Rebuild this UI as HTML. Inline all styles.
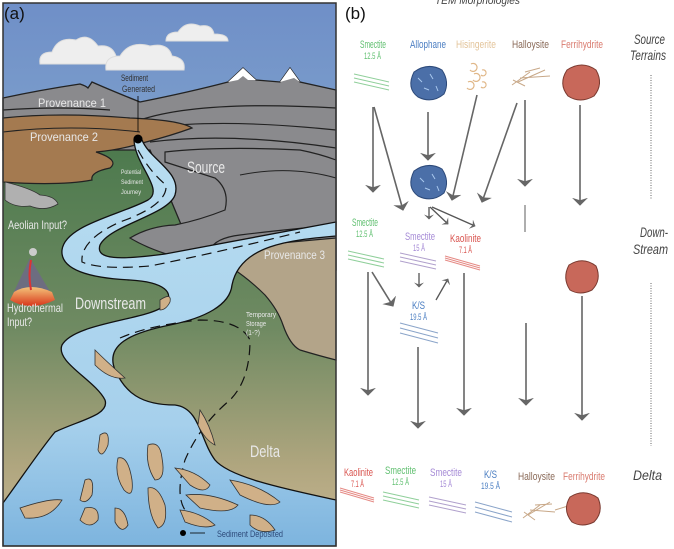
<!DOCTYPE html>
<html><head><meta charset="utf-8"><style>
html,body{margin:0;padding:0;background:#fff;width:674px;height:549px;overflow:hidden}
svg{display:block;font-family:"Liberation Sans",sans-serif}
</style></head><body>
<svg width="674" height="549" viewBox="0 0 674 549" xmlns="http://www.w3.org/2000/svg">
<defs>
<linearGradient id="sky" x1="0" y1="0" x2="0" y2="1">
<stop offset="0" stop-color="#6f8fc8"/><stop offset="0.6" stop-color="#8fb5cf"/><stop offset="1" stop-color="#7fb3ad"/></linearGradient>
<linearGradient id="land" x1="0" y1="0" x2="0" y2="1">
<stop offset="0" stop-color="#4d7a4e"/><stop offset="0.45" stop-color="#6f8a62"/><stop offset="0.8" stop-color="#b0a67f"/><stop offset="1" stop-color="#c9b894"/></linearGradient>
<linearGradient id="sea" x1="0" y1="0" x2="0" y2="1">
<stop offset="0" stop-color="#b9def1"/><stop offset="0.7" stop-color="#a6d0ec"/><stop offset="1" stop-color="#7db4de"/></linearGradient>
<linearGradient id="volc" x1="0" y1="0" x2="0" y2="1">
<stop offset="0" stop-color="#f4c37a"/><stop offset="1" stop-color="#d8361b"/></linearGradient>
<marker id="ah" viewBox="0 0 10 20" refX="9" refY="10" markerWidth="5" markerHeight="10" orient="auto" markerUnits="userSpaceOnUse">
<path d="M0,0 L10,10 L0,20 L4,10 Z" fill="#666"/></marker>
<marker id="ah2" viewBox="0 0 10 20" refX="9" refY="10" markerWidth="8" markerHeight="22" orient="auto" markerUnits="userSpaceOnUse">
<path d="M0,0 L10,10 L0,20 L3,10 Z" fill="#666"/></marker>
</defs>

<rect x="3" y="3" width="333" height="543" fill="url(#sky)"/>
<g fill="#eeeeee" stroke="#ddd">
<path d="M40,64 Q38,52 52,52 Q58,36 76,40 Q88,32 98,46 Q112,44 116,56 Q118,64 110,64 Z"/>
<path d="M106,70 Q104,56 120,56 Q130,40 150,46 Q168,42 172,56 Q186,58 184,70 Z"/>
<path d="M166,41 Q166,32 178,32 Q186,20 200,26 Q212,24 214,34 Q228,34 228,41 Z"/>
</g>
<path d="M3,150 L336,150 L336,546 L3,546 Z" fill="url(#land)"/>
<path d="M3,98 Q40,90 80,84 Q86,86 88,88 L92,82 Q110,90 140,102 Q190,92 228,82 L243,68 L256,80 L280,82 L290,68 L300,82 L336,90 L336,270 L200,270 L150,150 L3,150 Z" fill="#8a8a8d" stroke="#222" stroke-width="1.3"/>
<path d="M228,82 L243,68 L256,80 L248,80 L243,76 L238,80 Z M280,82 L290,68 L300,82 L294,78 Z" fill="#fff"/>
<g fill="none" stroke="#222" stroke-width="1.2">
<path d="M140,120 Q200,100 336,108"/><path d="M150,128 Q220,118 336,130"/><path d="M150,142 Q230,132 336,148"/>
<path d="M3,110 Q60,106 110,110"/>
</g>
<path d="M3,118 Q60,112 130,118 Q180,120 192,128 Q170,136 146,142 Q120,150 96,152 Q120,160 110,168 Q90,172 92,180 Q60,186 3,182 Z" fill="#a47a50" stroke="#222" stroke-width="1.2"/>
<path d="M3,132 Q70,124 140,132" fill="none" stroke="#222" stroke-width="1"/>
<path d="M165,152 Q220,146 300,150 Q320,154 336,160 L336,225 Q280,230 240,235 Q215,238 210,250 Q205,262 180,258 Q150,250 130,238 Q150,226 175,225 Q200,220 225,210 Q230,190 215,178 Q190,170 165,162 Z" fill="#8a8a8d" stroke="#222" stroke-width="1.2"/>
<path d="M240,175 Q290,165 336,178" fill="none" stroke="#222" stroke-width="1"/>
<path d="M336,238 Q290,242 250,246 Q228,254 232,268 Q250,280 265,295 Q278,310 283,325 Q290,345 300,350 Q320,356 336,360 Z" fill="#b3a489" stroke="#222" stroke-width="1.2"/>
<path d="M5,182 Q30,188 40,195 Q55,196 58,204 Q45,212 30,206 Q15,208 5,200 Z" fill="#b0b0b0" stroke="#333" stroke-width="0.8"/>
<path d="M30,258 L10,300 Q30,310 55,300 Z" fill="#6d6d80"/>
<path d="M14,292 Q30,282 52,292 L55,300 Q30,312 10,300 Z" fill="url(#volc)"/>
<circle cx="33" cy="252" r="4" fill="#ccc"/>
<path d="M31,260 Q28,275 31,290" stroke="#d33" stroke-width="2" fill="none"/>
<path d="M142,140 C150,160 182,172 175,195 C168,215 110,225 100,245 C95,260 120,260 165,254 L336,222 L336,236 C290,240 240,245 232,285 C230,305 205,318 170,325 C130,333 105,345 115,370 C125,392 140,405 175,405 C200,408 200,440 215,460 C230,478 290,490 336,500 L336,546 L3,546 L3,503 C20,480 40,450 55,432 C80,420 110,415 105,400 C95,380 55,362 62,345 C75,322 150,320 165,305 C175,293 165,282 130,280 C90,278 60,270 62,250 C65,225 120,215 148,200 C165,190 135,165 134,140 Z" fill="url(#sea)" stroke="#111" stroke-width="1.3"/>
<g fill="none" stroke="#111" stroke-width="1.2" stroke-dasharray="10,6">
<path d="M138,150 Q150,172 166,185 Q168,205 120,222 Q80,240 82,262 Q100,270 150,266 Q220,252 300,232"/>
<path d="M120,338 Q150,325 200,320 Q240,320 250,340 Q250,380 230,400 Q200,425 185,460 Q175,495 185,510"/>
</g>
<g fill="#d0b088" stroke="#333" stroke-width="0.8">
<path d="M100,435 Q110,428 108,445 Q102,460 98,450 Z"/>
<path d="M118,458 Q128,455 132,480 Q134,500 124,490 Q114,475 118,458 Z"/>
<path d="M148,445 Q160,440 162,458 Q166,480 155,480 Q145,465 148,445 Z"/>
<path d="M85,480 Q95,475 92,495 Q86,505 80,500 Z"/>
<path d="M148,488 Q158,485 165,505 Q168,525 158,528 Q148,515 148,488 Z"/>
<path d="M175,468 Q195,470 210,485 Q205,495 190,485 Z"/>
<path d="M186,495 Q210,492 238,505 Q230,515 200,508 Z"/>
<path d="M230,480 Q260,485 280,502 Q270,510 240,495 Z"/>
<path d="M180,510 Q200,512 215,525 Q205,530 185,522 Z"/>
<path d="M20,508 Q50,498 62,500 Q50,520 25,518 Z"/>
<path d="M85,508 Q100,505 98,520 Q90,530 80,520 Z"/>
<path d="M115,508 Q125,508 128,525 Q122,535 115,522 Z"/>
<path d="M250,515 Q265,515 275,530 Q260,535 250,525 Z"/>
<path d="M200,410 Q210,425 215,445 Q205,440 198,425 Z"/>
<path d="M95,350 Q105,360 125,378 Q110,380 95,365 Z"/>
<path d="M160,300 Q172,292 170,302 Q166,310 160,310 Z"/>
</g>
<circle cx="138" cy="139" r="4.5" fill="#000"/>
<circle cx="183" cy="533" r="3" fill="#000"/>
<line x1="138" y1="96" x2="138" y2="132" stroke="#000" stroke-width="0.8"/>
<line x1="205" y1="533" x2="190" y2="533" stroke="#000" stroke-width="0.8"/>
<rect x="3" y="3" width="333" height="543" fill="none" stroke="#333" stroke-width="1.5"/>
<g fill="#e8e8e8">
<text x="4" y="19" font-size="17" fill="#111">(a)</text>
<text x="121" y="81" font-size="9" fill="#333" textLength="27" lengthAdjust="spacingAndGlyphs">Sediment</text>
<text x="122" y="92" font-size="9" fill="#333" textLength="33" lengthAdjust="spacingAndGlyphs">Generated</text>
<text x="38" y="107" font-size="12" textLength="68" lengthAdjust="spacingAndGlyphs">Provenance 1</text>
<text x="30" y="141" font-size="12" textLength="68" lengthAdjust="spacingAndGlyphs">Provenance 2</text>
<text x="187" y="173" font-size="17" textLength="38" lengthAdjust="spacingAndGlyphs">Source</text>
<text x="121" y="174" font-size="6.5" textLength="20" lengthAdjust="spacingAndGlyphs">Potential</text>
<text x="121" y="184" font-size="6.5" textLength="22" lengthAdjust="spacingAndGlyphs">Sediment</text>
<text x="121" y="194" font-size="6.5" textLength="20" lengthAdjust="spacingAndGlyphs">Journey</text>
<text x="8" y="229" font-size="12" textLength="59" lengthAdjust="spacingAndGlyphs">Aeolian Input?</text>
<text x="264" y="259" font-size="12" textLength="61" lengthAdjust="spacingAndGlyphs">Provenance 3</text>
<text x="7" y="312" font-size="12" textLength="56" lengthAdjust="spacingAndGlyphs">Hydrothermal</text>
<text x="7" y="326" font-size="12" textLength="25" lengthAdjust="spacingAndGlyphs">Input?</text>
<text x="75" y="309" font-size="17" textLength="71" lengthAdjust="spacingAndGlyphs">Downstream</text>
<text x="246" y="317" font-size="7" textLength="30" lengthAdjust="spacingAndGlyphs">Temporary</text>
<text x="246" y="326" font-size="7" textLength="20" lengthAdjust="spacingAndGlyphs">Storage</text>
<text x="246" y="335" font-size="7" textLength="14" lengthAdjust="spacingAndGlyphs">(1-?)</text>
<text x="250" y="457" font-size="17" textLength="30" lengthAdjust="spacingAndGlyphs">Delta</text>
<text x="217" y="537" font-size="9" fill="#2d4a7a" textLength="66" lengthAdjust="spacingAndGlyphs">Sediment Deposited</text>
</g>

<text x="345" y="19" font-size="17" fill="#111">(b)</text>
<text x="435" y="4" font-size="11" font-style="italic" fill="#444" textLength="85" lengthAdjust="spacingAndGlyphs">TEM Morphologies</text>
<g font-size="14" font-style="italic" fill="#444">
<text x="634" y="44" textLength="31" lengthAdjust="spacingAndGlyphs">Source</text>
<text x="630" y="60" textLength="36" lengthAdjust="spacingAndGlyphs">Terrains</text>
<text x="640" y="237" textLength="28" lengthAdjust="spacingAndGlyphs">Down-</text>
<text x="633" y="254" textLength="35" lengthAdjust="spacingAndGlyphs">Stream</text>
<text x="633" y="480" textLength="29" lengthAdjust="spacingAndGlyphs">Delta</text>
</g>
<g font-size="11">
<text x="360" y="48" fill="#5fbf6f" textLength="26" lengthAdjust="spacingAndGlyphs">Smectite</text><text x="364" y="59" font-size="9" fill="#5fbf6f" textLength="17" lengthAdjust="spacingAndGlyphs">12.5 Å</text>
<text x="410" y="48" fill="#4b7ec2" textLength="36" lengthAdjust="spacingAndGlyphs">Allophane</text>
<text x="456" y="48" fill="#e3c49a" textLength="40" lengthAdjust="spacingAndGlyphs">Hisingerite</text>
<text x="512" y="48" fill="#8a6a58" textLength="37" lengthAdjust="spacingAndGlyphs">Halloysite</text>
<text x="561" y="48" fill="#d97a6e" textLength="42" lengthAdjust="spacingAndGlyphs">Ferrihydrite</text>
<text x="352" y="226" fill="#5fbf6f" textLength="26" lengthAdjust="spacingAndGlyphs">Smectite</text><text x="356" y="237" font-size="9" fill="#5fbf6f" textLength="17" lengthAdjust="spacingAndGlyphs">12.5 Å</text>
<text x="405" y="240" fill="#a58ad6" textLength="30" lengthAdjust="spacingAndGlyphs">Smectite</text><text x="413" y="251" font-size="9" fill="#a58ad6" textLength="12" lengthAdjust="spacingAndGlyphs">15 Å</text>
<text x="450" y="242" fill="#d9544f" textLength="31" lengthAdjust="spacingAndGlyphs">Kaolinite</text><text x="459" y="253" font-size="9" fill="#d9544f" textLength="13" lengthAdjust="spacingAndGlyphs">7.1 Å</text>
<text x="412" y="309" fill="#4b7ec2" textLength="13" lengthAdjust="spacingAndGlyphs">K/S</text><text x="410" y="320" font-size="9" fill="#4b7ec2" textLength="17" lengthAdjust="spacingAndGlyphs">19.5 Å</text>
<text x="344" y="476" fill="#d9544f" textLength="29" lengthAdjust="spacingAndGlyphs">Kaolinite</text><text x="351" y="487" font-size="9" fill="#d9544f" textLength="13" lengthAdjust="spacingAndGlyphs">7.1 Å</text>
<text x="385" y="474" fill="#5fbf6f" textLength="31" lengthAdjust="spacingAndGlyphs">Smectite</text><text x="392" y="485" font-size="9" fill="#5fbf6f" textLength="17" lengthAdjust="spacingAndGlyphs">12.5 Å</text>
<text x="430" y="476" fill="#a58ad6" textLength="32" lengthAdjust="spacingAndGlyphs">Smectite</text><text x="440" y="487" font-size="9" fill="#a58ad6" textLength="12" lengthAdjust="spacingAndGlyphs">15 Å</text>
<text x="484" y="478" fill="#4b7ec2" textLength="13" lengthAdjust="spacingAndGlyphs">K/S</text><text x="481" y="489" font-size="9" fill="#4b7ec2" textLength="19" lengthAdjust="spacingAndGlyphs">19.5 Å</text>
<text x="518" y="480" fill="#8a6a58" textLength="37" lengthAdjust="spacingAndGlyphs">Halloysite</text>
<text x="563" y="480" fill="#d97a6e" textLength="42" lengthAdjust="spacingAndGlyphs">Ferrihydrite</text>
</g>
<g stroke="#666" stroke-width="1" stroke-dasharray="1,1.5">
<line x1="651" y1="75" x2="651" y2="200"/><line x1="651" y1="283" x2="651" y2="446"/>
</g>
<g fill="none" stroke-width="1">
<g stroke="#8fcf9a"><path d="M354,74 L389,82 M354,78 L389,86 M354,82 L389,90"/>
<path d="M348,251 L384,259 M348,255 L384,263 M348,259 L384,267"/>
<path d="M383,492 L419,500 M383,496 L419,504 M383,500 L419,508"/></g>
<g stroke="#b0a0cc"><path d="M400,253 L436,261 M400,257 L436,265 M400,261 L436,269"/>
<path d="M429,497 L466,505 M429,501 L466,509 M429,505 L466,513"/></g>
<g stroke="#e58a85"><path d="M445,256 L480,266 M445,258 L480,268 M445,260 L480,270"/>
<path d="M340,488 L374,498 M340,490 L374,500 M340,492 L374,502"/></g>
<g stroke="#8aa4c9"><path d="M400,323 L438,333 M400,328 L438,338 M400,333 L438,343"/>
<path d="M475,502 L512,512 M475,507 L512,517 M475,512 L512,522"/></g>
<g stroke="#c8a888"><path d="M512,85 L530,72 M518,82 L545,70 M520,78 L550,76 M525,72 L540,68 M513,80 L525,86"/>
<path d="M523,518 L540,505 M528,515 L550,502 M530,510 L555,512 M535,505 L552,504 M524,512 L535,520 M555,510 L568,506"/></g>
</g>
<g fill="#4b6fa8" stroke="#2d4a7a">
<path d="M414,72 Q428,62 442,70 Q450,82 444,94 Q432,104 418,97 Q406,88 414,72 Z"/>
<path d="M414,171 Q428,161 442,169 Q450,181 444,193 Q432,203 418,196 Q406,187 414,171 Z"/>
</g>
<g stroke="#a9c8ee" stroke-width="1" fill="none"><path d="M418,78 l4,4 M430,74 l3,5 M424,88 l5,2 M436,86 l2,5 M420,178 l4,4 M432,174 l3,5 M425,188 l5,2 M437,186 l2,5"/></g>
<g fill="#c8685a" stroke="#7a3a30">
<path d="M567,70 Q582,60 596,70 Q604,84 594,96 Q580,104 568,96 Q558,84 567,70 Z"/>
<path d="M569,265 Q583,256 596,266 Q602,280 592,290 Q580,296 570,290 Q562,278 569,265 Z"/>
<path d="M570,497 Q584,488 598,498 Q604,512 594,522 Q582,528 572,522 Q562,510 570,497 Z"/>
</g>
<g fill="none" stroke="#e0b788" stroke-width="1.2">
<path d="M471,64 a4,4 0 1 1 -1,6 M474,74 a4,4 0 1 1 -1,6 M468,82 a4,4 0 1 1 -1,6 M482,82 a3,3 0 1 1 -1,5 M482,70 a3,3 0 1 1 -1,5"/>
</g>
<g stroke="#666" stroke-width="1.6" fill="none" marker-end="url(#ah2)">
<line x1="373" y1="107" x2="373" y2="192"/>
<line x1="374" y1="107" x2="403" y2="210"/>
<line x1="428" y1="112" x2="428" y2="160"/>
<line x1="477" y1="95" x2="452" y2="200"/>
<line x1="517" y1="103" x2="482" y2="202"/>
<line x1="525" y1="100" x2="525" y2="186"/>
<line x1="580" y1="105" x2="580" y2="205"/>
<line x1="368" y1="272" x2="368" y2="395"/>
<line x1="372" y1="272" x2="393" y2="306"/>
<line x1="418" y1="347" x2="418" y2="428"/>
<line x1="464" y1="273" x2="464" y2="415"/>
<line x1="526" y1="323" x2="526" y2="405"/>
<line x1="582" y1="296" x2="582" y2="420"/>
</g>
<g stroke="#555" stroke-width="1.3" fill="none" marker-end="url(#ah)">
<line x1="429" y1="207" x2="429" y2="219"/>
<line x1="430" y1="207" x2="448" y2="224"/>
<line x1="432" y1="207" x2="475" y2="226"/>
<line x1="419" y1="273" x2="419" y2="287"/>
<line x1="436" y1="300" x2="448" y2="279"/>
</g>
<line x1="525" y1="205" x2="525" y2="232" stroke="#777" stroke-width="1.2"/>
</svg>
</body></html>
